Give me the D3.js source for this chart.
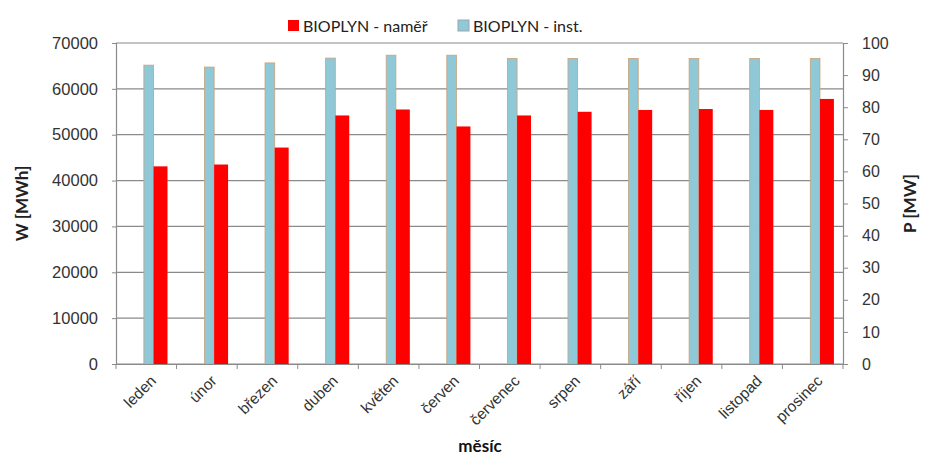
<!DOCTYPE html>
<html>
<head>
<meta charset="utf-8">
<script src="https://cdn.jsdelivr.net/npm/d3@7"></script>
<style>
  body { margin: 0; background: #fff; }
  svg { display: block; font-family: Lato, "Open Sans", sans-serif; }
</style>
</head>
<body>
<svg id="chart"></svg>
<script>
(function(){
    // Months (categories)
    const months = ["leden", "únor", "březen", "duben", "květen", "červen",
        "červenec", "srpen", "září", "říjen", "listopad", "prosinec"];
    // Measured energy, MWh (left axis)
    const measured = [43100, 43500, 47200, 54200, 55500, 51800,
        54200, 55000, 55400, 55600, 55400, 57800];
    // Installed power, MW (right axis)
    const installed = [93.1, 92.5, 93.8, 95.3, 96.2, 96.2,
        95.2, 95.2, 95.2, 95.2, 95.2, 95.2];
    const leftTicks = [0, 10000, 20000, 30000, 40000, 50000, 60000, 70000];
    const rightTicks = [0, 10, 20, 30, 40, 50, 60, 70, 80, 90, 100];
    const seriesNames = ["BIOPLYN - naměř", "BIOPLYN - inst."];

    const W = 926, H = 458;
    const margin = { top: 43, right: 83, bottom: 94, left: 116 },
        width = W - margin.left - margin.right,
        height = H - margin.top - margin.bottom;

    const svg = d3.select("#chart").attr("width", W).attr("height", H);
    const g = svg.append("g").attr("transform", `translate(${margin.left},${margin.top})`);

    const x = d3.scaleBand().domain(months).range([0, width]).padding(0);
    const yL = d3.scaleLinear().domain([0, 70000]).range([height, 0]);
    const yR = d3.scaleLinear().domain([0, 100]).range([height, 0]);

    const textColor = "#333";

    // Gridlines from left axis
    g.append("g").selectAll("line").data(leftTicks).enter().append("line")
        .attr("x1", 0).attr("x2", width)
        .attr("y1", d => yL(d)).attr("y2", d => yL(d))
        .attr("stroke", "#8a8a8a").attr("stroke-width", 1.2);

    // Bars: installed (blue, right axis) then measured (red, left axis)
    const bw = x.bandwidth();
    g.append("g").selectAll("rect").data(installed).enter().append("rect")
        .attr("x", (d, i) => x(months[i]) + bw * 0.46)
        .attr("width", bw * 0.16)
        .attr("y", d => yR(d))
        .attr("height", d => height - yR(d))
        .attr("fill", "#8fc8d7")
        .attr("stroke", "#c9a27a").attr("stroke-width", 0.8);

    g.append("g").selectAll("rect").data(measured).enter().append("rect")
        .attr("x", (d, i) => x(months[i]) + bw * 0.62)
        .attr("width", bw * 0.23)
        .attr("y", d => yL(d))
        .attr("height", d => height - yL(d))
        .attr("fill", "#ff0000");

    // Left axis
    const axL = g.append("g")
        .call(d3.axisLeft(yL).tickValues(leftTicks).tickSize(4).tickPadding(14).tickFormat(d3.format("d")));
    axL.select(".domain").attr("stroke", "#8a8a8a").attr("stroke-width", 1.2);
    axL.selectAll(".tick line").attr("stroke", "#8a8a8a");
    axL.selectAll("text").attr("fill", textColor).style("font-size", "16.5px");

    // Right axis
    const axR = g.append("g").attr("transform", `translate(${width},0)`)
        .call(d3.axisRight(yR).tickValues(rightTicks).tickSize(5).tickPadding(14));
    axR.select(".domain").attr("stroke", "#8a8a8a").attr("stroke-width", 1.2);
    axR.selectAll(".tick line").attr("stroke", "#8a8a8a");
    axR.selectAll("text").attr("fill", textColor).style("font-size", "16px");

    // Bottom axis with ticks at band boundaries
    const axB = g.append("g").attr("transform", `translate(0,${height})`)
        .call(d3.axisBottom(x).tickSize(0).tickPadding(0));
    axB.select(".domain").attr("stroke", "#8a8a8a").attr("stroke-width", 1.2);
    axB.selectAll(".tick text")
        .attr("fill", textColor).style("font-size", "15.5px")
        .attr("text-anchor", "end")
        .attr("transform", "translate(7,14) rotate(-45)")
        .attr("dy", "0.35em");
    axB.append("g").selectAll("line").data(d3.range(months.length + 1)).enter().append("line")
        .attr("x1", i => i * bw).attr("x2", i => i * bw)
        .attr("y1", 0).attr("y2", 5)
        .attr("stroke", "#8a8a8a");

    // Axis titles
    svg.append("text")
        .attr("transform", `translate(28,${margin.top + height / 2}) rotate(-90)`)
        .attr("text-anchor", "middle")
        .style("font-size", "17px").style("font-weight", "bold")
        .attr("fill", "#222").text("W [MWh]");
    svg.append("text")
        .attr("transform", `translate(916,${margin.top + height / 2}) rotate(-90)`)
        .attr("text-anchor", "middle")
        .style("font-size", "17px").style("font-weight", "bold")
        .attr("fill", "#222").text("P [MW]");
    svg.append("text")
        .attr("x", 480).attr("y", 452)
        .attr("text-anchor", "middle")
        .style("font-size", "17px").style("font-weight", "bold")
        .attr("fill", "#111").text("měsíc");

    // Legend
    const legendColors = ["#ff0000", "#8fc8d7"];
    const legendX = [288, 458];
    const legend = svg.append("g").selectAll("g").data(seriesNames).enter().append("g")
        .attr("transform", (d, i) => `translate(${legendX[i]},20)`);
    legend.append("rect")
        .attr("width", 11).attr("height", 11)
        .attr("fill", (d, i) => legendColors[i])
        .attr("stroke", (d, i) => i === 1 ? "#9aa6ad" : "none");
    legend.append("text")
        .attr("x", 15).attr("y", 6).attr("dy", "0.35em")
        .style("font-size", "16px").attr("fill", "#222")
        .text(d => d);
})();
</script>
</body>
</html>
